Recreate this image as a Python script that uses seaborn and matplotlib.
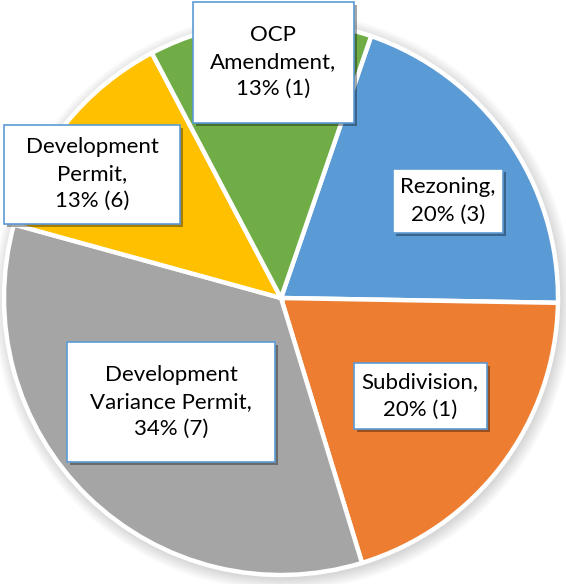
import matplotlib
matplotlib.use("Agg")
import matplotlib.pyplot as plt
import matplotlib.patheffects as pe
from matplotlib.patches import Rectangle, Circle
import seaborn as sns

# data
categories = ["Rezoning", "Subdivision", "Development\nVariance Permit", "Development\nPermit", "OCP\nAmendment"]
shares = [20, 20, 34, 13, 13]          # percent
counts = [3, 1, 7, 6, 1]
colors = ["#5B9BD5", "#ED7D31", "#A5A5A5", "#FFC000", "#70AD47"]

# label box layout in pixel coords (center x, center y from top, width, height)
boxes = [(448, 201, 110, 64),
         (420, 396, 133, 66),
         (171, 402, 208, 120),
         (92, 174, 176, 99),
         (273, 62, 161, 121)]

sns.set_theme(style="white")
plt.rcParams['font.family'] = ['Lato', 'DejaVu Sans']

W, H = 566, 584
fig = plt.figure(figsize=(W / 100, H / 100), dpi=100)
ax = fig.add_axes([0, 0, 1, 1])

cx, cy, r = 281, H - 298, 277

# soft shadow round the pie
for k in range(1, 14):
    ax.add_patch(Circle((cx + 2, cy - 3), r + k, color="black", alpha=0.012, lw=0, zorder=0))

ax.pie(shares, colors=colors, startangle=71, counterclock=False,
       center=(cx, cy), radius=r, frame=True,
       wedgeprops=dict(edgecolor="white", linewidth=3.2, zorder=2))
ax.set_xlim(0, W)
ax.set_ylim(0, H)
ax.set_aspect("equal")
ax.axis("off")

shadow = [pe.SimplePatchShadow(offset=(2.5, -2.5), shadow_rgbFace="black", alpha=0.35), pe.Normal()]
for cat, s, n, (bx, by, bw, bh) in zip(categories, shares, counts, boxes):
    y = H - by
    rect = Rectangle((bx - bw / 2, y - bh / 2), bw, bh, facecolor="white",
                     edgecolor="#5B9BD5", linewidth=1.2, zorder=5)
    rect.set_path_effects(shadow)
    ax.add_patch(rect)
    if cat == "Development\nPermit":
        label = "Development\nPermit,\n" + f"{s}% ({n})"
    else:
        label = cat + ",\n" + f"{s}% ({n})"
    ax.text(bx, y, label, ha="center", va="center", fontsize=16,
            linespacing=1.45, color="black", zorder=6)

fig.savefig("out.png", dpi=100)
